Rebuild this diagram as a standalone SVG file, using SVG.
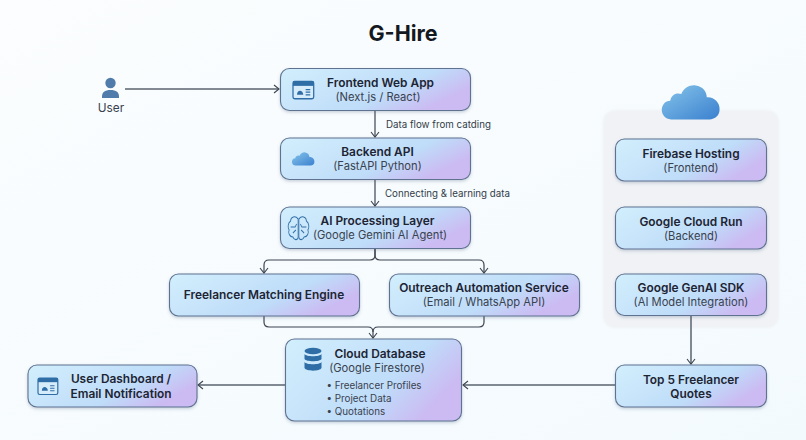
<svg xmlns="http://www.w3.org/2000/svg" width="806" height="440" viewBox="0 0 806 440">
<style>
text{font-family:Inter,"Liberation Sans",sans-serif;text-anchor:middle;fill:#1d2433}
.t{font-size:11.9px;font-weight:600}
.s{font-size:11.2px;fill:#39424f}
.l{font-size:9.75px;fill:#333c48;text-anchor:start}
.b{font-size:9.8px;fill:#39424f;text-anchor:start}
.box{fill:url(#g);stroke:#5f7391;stroke-width:1.1;filter:url(#sh)}
.c{fill:none;stroke:#3c4450;stroke-width:1.2}
.h{fill:none;stroke:#5a636e;stroke-width:1.5}
.ic{fill:none;stroke:#2f6da6;stroke-width:1.1}
</style>
<defs>
<linearGradient id="bg" x1="0" y1="0" x2="1" y2="1"><stop offset="0" stop-color="#fbfdfe"/><stop offset="1" stop-color="#f3fafe"/></linearGradient>
<linearGradient id="g" x1="0" y1="0" x2="1" y2=".45"><stop offset="0" stop-color="#d2effd"/><stop offset=".7" stop-color="#bfdcf9"/><stop offset="1" stop-color="#cbbbf2"/></linearGradient>
<linearGradient id="cl" x1="0" y1="0" x2="1" y2="1"><stop offset="0" stop-color="#86c5ea"/><stop offset="1" stop-color="#3a80cf"/></linearGradient>
<filter id="sh" x="-10%" y="-20%" width="120%" height="140%"><feDropShadow dx="0" dy="1.5" stdDeviation="1.5" flood-color="#54688a" flood-opacity=".3"/></filter>
<filter id="ps" x="-10%" y="-10%" width="120%" height="120%"><feGaussianBlur stdDeviation="1"/></filter>
<marker id="a" markerWidth="9" markerHeight="10" refX="7" refY="5" orient="auto" markerUnits="userSpaceOnUse"><path d="M2 1 L7 5 L2 9" fill="none" stroke="#3c4450" stroke-width="1.1"/></marker>
<path id="cloud" d="M-24 17 C-31 17 -35 11 -35 6 C-35 0 -31 -5 -25 -5 C-24 -12 -18 -15 -12 -13 C-9 -20 -2 -24 5 -23 C13 -22 18 -16 18 -9 C26 -10 34 -3 33 6 C33 12 28 17 21 17 Z"/>
<g id="win"><rect x="0" y="0" width="18" height="15" rx="1.5" fill="#d7ecfa" stroke="#2f6da6" stroke-width="1.1"/><rect x="0" y="0" width="18" height="3.800" fill="#2f6da6"/><path d="M3.500 11.500 C3.500 7 8.500 7 9 11.500 Z" fill="#2f6da6"/><path d="M11 7h4M11 9.300h4M11 11.600h4" stroke="#2f6da6" stroke-width="1"/></g>
</defs>
<rect width="806" height="440" fill="url(#bg)"/>
<text x="403" y="41" font-size="21.500" font-weight="700" style="fill:#14181f">G-Hire</text>
<rect id="cloud-panel" x="603" y="110" width="176" height="218" rx="12" fill="#f0f2f5" filter="url(#ps)"/>
<use href="#cloud" transform="translate(691.500 105) scale(.85)" fill="url(#cl)"/>
<g id="connectors">
<path class="h" d="M125 89H279" marker-end="url(#a)"/>
<path class="c" d="M375 110V137" marker-end="url(#a)"/>
<path class="c" d="M375 179V206" marker-end="url(#a)"/>
<path class="c" d="M375 248V255Q375 260 370 260H269Q264 260 264 265V273" marker-end="url(#a)"/>
<path class="c" d="M375 248V255Q375 260 380 260H479Q484 260 484 265V273" marker-end="url(#a)"/>
<path class="c" d="M264 316V322Q264 327 269 327H368Q373 327 373 332V338" marker-end="url(#a)"/>
<path class="c" d="M484 316V322Q484 327 479 327H378Q373 327 373 332"/>
<path class="h" d="M285 385H198" marker-end="url(#a)"/>
<path class="h" d="M615 385H463" marker-end="url(#a)"/>
<path class="h" d="M691 315V364" marker-end="url(#a)"/>
<text class="l" x="386" y="128">Data flow from catding</text>
<text class="l" x="385" y="197">Connecting &amp; learning data</text>
</g>
<g id="user"><circle cx="110.500" cy="83" r="5.200" fill="#4f7cab"/><path d="M102 98C101.500 92 105 90 110.500 90S119.500 92 119 98Z" fill="#4f7cab"/><text x="111" y="112" style="font-size:11.800px" class="s">User</text></g>
<g id="frontend"><rect class="box" x="280.500" y="68.500" width="190" height="42" rx="9"/><use href="#win" transform="translate(293 81.500) scale(1.150)"/><text class="t" x="380.500" y="87">Frontend Web App</text><text class="s" x="378" y="101">(Next.js / React)</text></g>
<g id="backend"><rect class="box" x="280.500" y="138" width="190" height="41.500" rx="9"/><use href="#cloud" transform="translate(303.500 160) scale(.33)" fill="url(#cl)"/><text class="t" x="377.500" y="156">Backend API</text><text class="s" x="377.500" y="170">(FastAPI Python)</text></g>
<g id="ai"><rect class="box" x="280.500" y="207" width="190" height="41.500" rx="9"/>
<g class="ic" transform="translate(298.500 1) scale(.75 1) translate(-302.500 0)"><path d="M302 218C298 214 292 216 292 220C288 222 288 227 290 229C288 232 291 236 295 236C297 240 302 239 302 236Z"/><path d="M303 218C307 214 313 216 313 220C317 222 317 227 315 229C317 232 314 236 310 236C308 240 303 239 303 236Z"/><path d="M292 226H298L300 223M313 226H307L305 223M295 232L299 229M310 232L306 229"/></g>
<text class="t" x="377.500" y="225">AI Processing Layer</text><text class="s" x="380" y="239">(Google Gemini AI Agent)</text></g>
<g id="matching"><rect class="box" x="169.500" y="274" width="190" height="42" rx="9"/><text class="t" x="264" y="299">Freelancer Matching Engine</text></g>
<g id="outreach"><rect class="box" x="389.500" y="274" width="190" height="42" rx="9"/><text class="t" x="484" y="292">Outreach Automation Service</text><text class="s" x="484" y="306">(Email / WhatsApp API)</text></g>
<g id="database"><rect class="box" x="285.500" y="339" width="176" height="82" rx="9"/>
<g fill="#2f6da6"><ellipse cx="313" cy="351" rx="8.500" ry="3.200"/><path d="M304.500 354C306 357 320 357 321.500 354V359C320 362 306 362 304.500 359Z"/><path d="M304.500 362C306 365 320 365 321.500 362V368C320 371.500 306 371.500 304.500 368Z"/></g>
<text class="t" x="380" y="358">Cloud Database</text><text class="s" x="377" y="372">(Google Firestore)</text>
<text class="b" x="326.500" y="389">•  Freelancer Profiles</text><text class="b" x="326.500" y="402">•  Project Data</text><text class="b" x="326.500" y="415">•  Quotations</text></g>
<g id="dashboard"><rect class="box" x="28" y="365" width="169" height="42" rx="9"/><use href="#win" transform="translate(38 378) scale(1.100)"/><text class="t" x="121" y="383">User Dashboard /</text><text class="t" x="121" y="398">Email Notification</text></g>
<g id="firebase"><rect class="box" x="615.500" y="139" width="151" height="42" rx="9"/><text class="t" x="691" y="158">Firebase Hosting</text><text class="s" x="691" y="172">(Frontend)</text></g>
<g id="cloudrun"><rect class="box" x="615.500" y="207" width="151" height="42" rx="9"/><text class="t" x="691" y="226">Google Cloud Run</text><text class="s" x="691" y="240">(Backend)</text></g>
<g id="genai"><rect class="box" x="615.500" y="274" width="151" height="41.500" rx="9"/><text class="t" x="691" y="292">Google GenAI SDK</text><text class="s" x="691" y="306">(AI Model Integration)</text></g>
<g id="quotes"><rect class="box" x="615.500" y="365" width="151" height="42" rx="9"/><text class="t" x="691" y="384">Top 5 Freelancer</text><text class="t" x="691" y="398">Quotes</text></g>
</svg>
